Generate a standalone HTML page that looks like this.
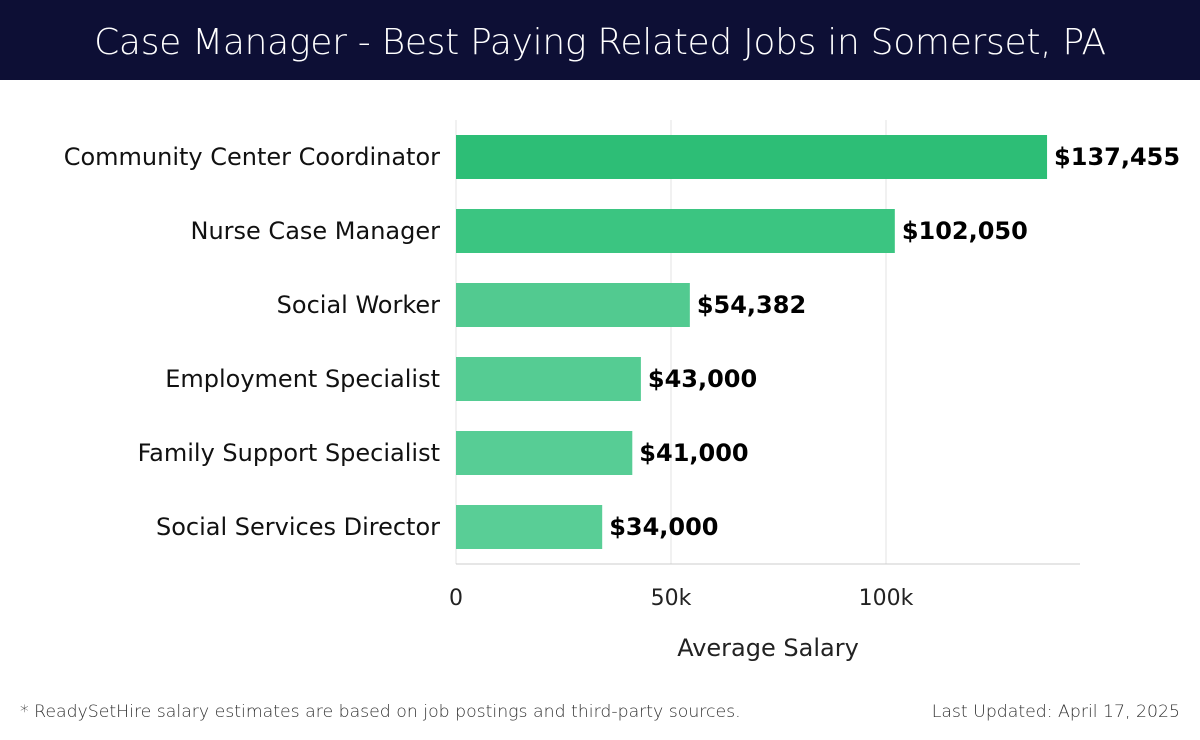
<!DOCTYPE html>
<html><head><meta charset="utf-8"><style>
body{margin:0;width:1200px;height:740px;background:#fff;font-family:"DejaVu Sans","Liberation Sans",sans-serif;overflow:hidden;position:relative}
#hdr{position:absolute;left:0;top:0;width:1200px;height:80px;background:#0d0f35;color:#fff;font-size:36px;text-align:center;line-height:86px;font-family:"DejaVu Sans","Liberation Sans",sans-serif;font-weight:300;letter-spacing:-0.3px}
.foot{position:absolute;top:702px;font-size:17.3px;color:#333;font-family:"DejaVu Sans","Liberation Sans",sans-serif;font-weight:300}
svg text{font-family:"DejaVu Sans","Liberation Sans",sans-serif}
</style></head><body>
<div id="hdr">Case Manager - Best Paying Related Jobs in Somerset, PA</div>
<svg id="chart" width="1200" height="740" style="position:absolute;left:0;top:0"></svg>
<div class="foot" style="left:20px">* ReadySetHire salary estimates are based on job postings and third-party sources.</div>
<div class="foot" style="right:20px">Last Updated: April 17, 2025</div>
<script>
const categories=["Community Center Coordinator","Nurse Case Manager","Social Worker","Employment Specialist","Family Support Specialist","Social Services Director"];
const values=[137455,102050,54382,43000,41000,34000];
const valueLabels=["$137,455","$102,050","$54,382","$43,000","$41,000","$34,000"];
const ticks=[0,50000,100000];
const tickLabels=["0","50k","100k"];
const colors=["#2dbe76","#3bc581","#52ca90","#55cc93","#57cd95","#59ce96"];
const svg=document.getElementById('chart');const NS="http://www.w3.org/2000/svg";
const x0=456,pxPer=215/50000,yTop=120,yBot=564,step=74,bh=44,firstC=157;
const X=v=>x0+v*pxPer;const Yc=i=>firstC+i*step;
function mk(t,a){const e=document.createElementNS(NS,t);for(const k in a)e.setAttribute(k,a[k]);svg.appendChild(e);return e;}
ticks.forEach((t,i)=>{
 const g=mk('line',{x1:X(t),x2:X(t),y1:yTop,y2:yBot,stroke:'#e3e3e3','stroke-width':1});
 
 
 const tl=mk('text',{x:X(t),y:605,'text-anchor':'middle','font-size':22,fill:'#222'});tl.textContent=tickLabels[i];
 
 
});
const ax=mk('line',{x1:x0,x2:1080,y1:yBot,y2:yBot,stroke:'#ccc','stroke-width':1});


const at=mk('text',{x:768,y:656,'text-anchor':'middle','font-size':24,fill:'#222'});at.textContent="Average Salary";


categories.forEach((c,i)=>{
 const y=Yc(i);
 const r=mk('rect',{x:x0,y:y-bh/2,width:X(values[i])-x0,height:bh,fill:colors[i]});
 
 
 const l=mk('text',{x:440,y:y+8,'text-anchor':'end','font-size':24,fill:'#111'});l.textContent=c;
 
 
 const v=mk('text',{x:X(values[i])+7,y:y+8,'font-size':24,'font-weight':'bold',fill:'#000'});v.textContent=valueLabels[i];
 
 
});
</script>
</body></html>
